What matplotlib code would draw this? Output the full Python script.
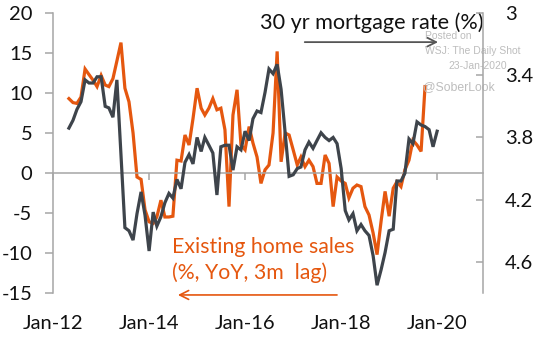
import matplotlib
matplotlib.use('Agg')
import matplotlib.pyplot as plt
import matplotlib.dates as mdates
from matplotlib.ticker import FixedLocator, FuncFormatter
import pandas as pd

plt.rcParams['font.family'] = ['Lato', 'DejaVu Sans']
plt.rcParams['axes.unicode_minus'] = False

# Existing home sales, % YoY, shifted 3 months (left axis), monthly from May-2012
home_sales = [
    9.3, 8.8, 8.7, 9.5, 13.0, 12.3, 11.6, 10.8, 12.2, 11.0,
    10.8, 11.8, 14.0, 16.3, 10.6, 8.9, 5.0, -0.5, -0.8, -4.6,
    -6.1, -6.3, -5.5, -3.4, -5.5, -5.5, -5.4, 1.6, 1.5, 4.75,
    3.5, 6.8, 10.6, 8.1, 7.25, 8.1, 9.3, 7.9, 8.1, 5.4,
    -4.2, 7.25, 10.4, 3.5, 2.9, 5.8, 3.75, 2.0, -1.3, 0.4,
    1.0, 5.0, 15.2, 1.4, 5.0, 4.75, 2.9, 1.0, 2.0, 0.8,
    1.6, 0.8, -1.3, -1.3, 2.25, 1.2, -4.2, -0.5, -1.0, -1.3,
    -3.1, -1.9, -1.5, -1.7, -4.2, -5.25, -7.5, -10.2, -6.0, -2.3,
    -5.4, -1.9, -1.1, -1.7, 0.4, 1.6, 4.1, 3.5, 2.7, 10.8,
]
home_start = '2012-05-01'

# 30 yr mortgage rate, % (right axis, inverted), monthly from May-2012
mortgage_rate = [
    3.74, 3.69, 3.62, 3.57, 3.43, 3.45, 3.45, 3.41, 3.41, 3.60,
    3.61, 3.67, 3.43, 3.91, 4.38, 4.40, 4.46, 4.29, 4.15, 4.30,
    4.53, 4.28, 4.37, 4.31, 4.22, 4.16, 4.19, 4.07, 4.13, 3.96,
    3.91, 3.97, 3.80, 3.89, 3.80, 3.85, 3.90, 4.17, 3.86, 3.85,
    3.85, 4.01, 3.86, 3.88, 3.76, 3.82, 3.68, 3.63, 3.64, 3.51,
    3.36, 3.39, 3.33, 3.49, 3.77, 4.05, 4.04, 4.00, 3.99, 3.88,
    3.83, 3.87, 3.82, 3.77, 3.80, 3.82, 3.80, 3.84, 4.00, 4.27,
    4.33, 4.29, 4.40, 4.36, 4.40, 4.43, 4.56, 4.75, 4.65, 4.54,
    4.40, 4.39, 4.08, 4.08, 4.03, 3.81, 3.84, 3.70, 3.72, 3.73,
    3.75, 3.86, 3.76,
]
rate_start = '2012-05-01'

x_tick_dates = ['2012-01-01', '2014-01-01', '2016-01-01', '2018-01-01', '2020-01-01']
left_ticks = [-15, -10, -5, 0, 5, 10, 15, 20]
right_ticks = [3.0, 3.4, 3.8, 4.2, 4.6]

orange = '#E5570F'
dark = '#3E444B'
spine_col = '#A6A6A6'

home_dates = pd.date_range(home_start, periods=len(home_sales), freq='MS')
rate_dates = pd.date_range(rate_start, periods=len(mortgage_rate), freq='MS')

fig = plt.figure(figsize=(5.36, 3.37), dpi=100)
ax = fig.add_axes([53 / 536, 44 / 337, 430 / 536, 280 / 337])
ax2 = ax.twinx()

ax.plot(home_dates, home_sales, color=orange, lw=2.3, solid_joinstyle='miter')
ax2.plot(rate_dates, mortgage_rate, color=dark, lw=2.3, solid_joinstyle='miter')

ax.set_ylim(-15, 20)
ax2.set_ylim(4.8, 3.0)
ax.set_xlim(pd.Timestamp('2012-01-01'), pd.Timestamp('2020-12-15'))

# left axis
ax.yaxis.set_major_locator(FixedLocator(left_ticks))
ax.yaxis.set_major_formatter(FuncFormatter(lambda v, p: f'{v:g}'))
ax.tick_params(axis='y', direction='out', length=5.8, width=1.1, color=spine_col,
               labelsize=14.5, pad=9.0, labelcolor='#111111')
for s in ('top', 'right'):
    ax.spines[s].set_visible(False)
ax.spines['left'].set_color(spine_col)
ax.spines['left'].set_linewidth(1.1)
ax.spines['bottom'].set_position(('data', 0))
ax.spines['bottom'].set_color(spine_col)
ax.spines['bottom'].set_linewidth(1.1)

# x axis: ticks on the zero line, labels at bottom via twin axis
ax.xaxis.set_major_locator(FixedLocator([mdates.date2num(pd.Timestamp(d)) for d in x_tick_dates]))
ax.xaxis.set_major_formatter(mdates.DateFormatter('%b-%y'))
ax.tick_params(axis='x', direction='out', length=5, width=1.1, color=spine_col, labelbottom=False)

ax2.xaxis.set_visible(True)
ax2.tick_params(axis='x', bottom=True, top=False, length=0, labelbottom=True, labeltop=False,
                pad=15.5, labelsize=14.5, labelcolor='#111111')

# right axis
ax2.yaxis.set_major_locator(FixedLocator(right_ticks))
ax2.yaxis.set_major_formatter(FuncFormatter(lambda v, p: f'{v:g}'))
ax2.tick_params(axis='y', direction='in', length=5, width=1.1, color=spine_col,
                labelsize=14.5, pad=15.8, labelcolor='#111111')
for s in ('top', 'left', 'bottom'):
    ax2.spines[s].set_visible(False)
ax2.spines['right'].set_color(spine_col)
ax2.spines['right'].set_linewidth(1.1)

# annotations
ax.text(0.481, 0.966, '30 yr mortgage rate (%)', transform=ax.transAxes,
        ha='left', va='center', fontsize=15.6, color='#111111')
ax.annotate('', xy=(0.902, 0.896), xytext=(0.579, 0.896), xycoords='axes fraction',
            arrowprops=dict(arrowstyle='->', color='#555555', lw=1.3, mutation_scale=16))

ax.text(0.277, 0.164, 'Existing home sales', transform=ax.transAxes,
        ha='left', va='center', fontsize=15.3, color=orange)
ax.text(0.277, 0.071, '(%, YoY, 3m  lag)', transform=ax.transAxes,
        ha='left', va='center', fontsize=15.3, color=orange)
ax.annotate('', xy=(0.284, -0.007), xytext=(0.667, -0.007), xycoords='axes fraction',
            arrowprops=dict(arrowstyle='->', color=orange, lw=1.2, mutation_scale=16),
            annotation_clip=False)

wm = dict(transform=ax.transAxes, color='#BDBDBD', family=['Liberation Sans', 'DejaVu Sans'])
ax.text(0.865, 0.918, 'Posted on', ha='left', va='center', fontsize=7.5, **wm)
ax.text(0.865, 0.866, 'WSJ: The Daily Shot', ha='left', va='center', fontsize=7.5, **wm)
ax.text(1.056, 0.811, '23-Jan-2020', ha='right', va='center', fontsize=7.5, **wm)
ax.text(0.860, 0.736, '@SoberLook', ha='left', va='center', fontsize=8.8, **wm)

fig.savefig('out.png', dpi=100)
